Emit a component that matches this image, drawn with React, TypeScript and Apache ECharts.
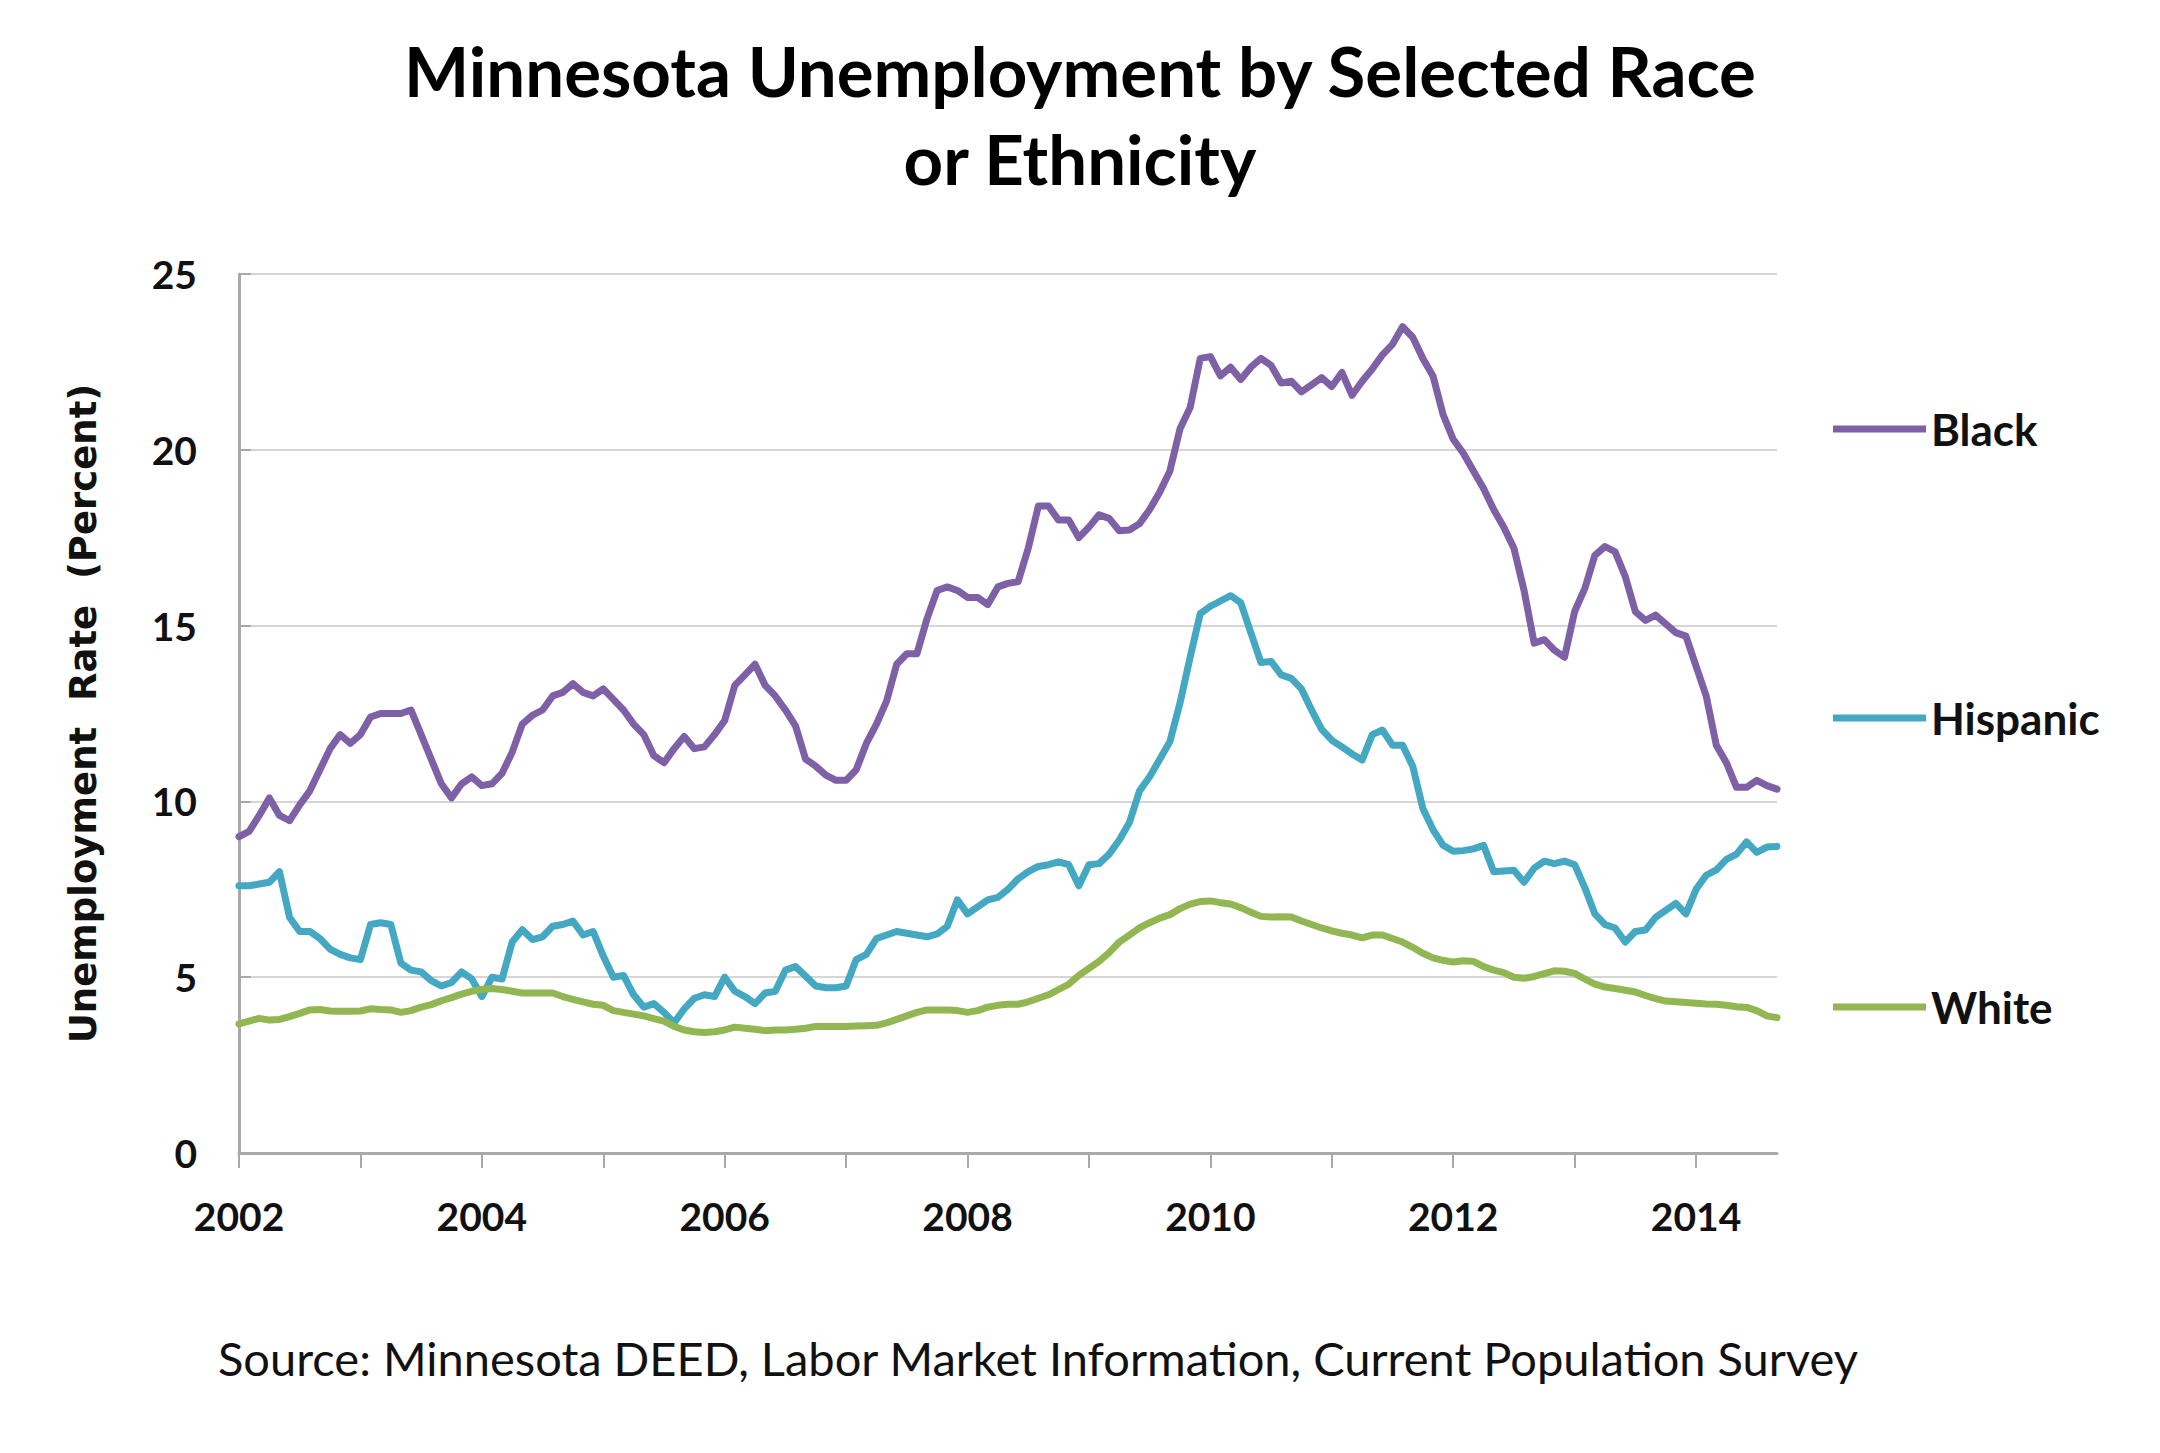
import React, { useEffect, useRef } from "react";
import * as echarts from "echarts";

const START_YEAR = 2002;
const SERIES_NAMES = ["Black", "Hispanic", "White"];
const SERIES_COLORS = ["#7D60A5", "#44A8C3", "#92B752"];
const Y_TICKS = [0, 5, 10, 15, 20, 25];

const BLACK = [
  9.0, 9.15, 9.6, 10.1, 9.6, 9.45, 9.9, 10.3, 10.9, 11.5, 11.9, 11.65,
  11.9, 12.4, 12.5, 12.5, 12.5, 12.6, 11.9, 11.2, 10.5, 10.1, 10.5, 10.7,
  10.45, 10.5, 10.8, 11.4, 12.2, 12.45, 12.6, 13.0, 13.1, 13.35, 13.1, 13.0,
  13.2, 12.9, 12.6, 12.2, 11.9, 11.3, 11.1, 11.5, 11.85, 11.5, 11.55, 11.9,
  12.3, 13.3, 13.6, 13.9, 13.3, 13.0, 12.6, 12.15, 11.2, 11.0, 10.75, 10.6,
  10.6, 10.9, 11.65, 12.2, 12.85, 13.9, 14.2, 14.2, 15.2, 16.0, 16.1, 16.0,
  15.8, 15.8, 15.6, 16.1, 16.2, 16.25, 17.2, 18.4, 18.4, 18.0, 18.0, 17.5,
  17.8, 18.15, 18.05, 17.7, 17.72, 17.9, 18.3, 18.8, 19.4, 20.6, 21.2, 22.6,
  22.65, 22.1, 22.35, 22.0, 22.35, 22.6, 22.4, 21.9, 21.95, 21.65, 21.85, 22.05,
  21.8, 22.2, 21.55, 21.95, 22.3, 22.7, 23.0, 23.5, 23.2, 22.6, 22.1, 21.0,
  20.3, 19.9, 19.4, 18.9, 18.3, 17.8, 17.2, 16.0, 14.5, 14.6, 14.3, 14.1,
  15.4, 16.05, 17.0, 17.25, 17.1, 16.4, 15.4, 15.15, 15.3, 15.05, 14.8, 14.7,
  13.85, 13.0, 11.6, 11.1, 10.4, 10.4, 10.6, 10.45, 10.35,
];

const HISPANIC = [
  7.6, 7.6, 7.65, 7.7, 8.0, 6.7, 6.3, 6.3, 6.1, 5.8, 5.65, 5.55,
  5.5, 6.5, 6.55, 6.5, 5.4, 5.2, 5.15, 4.9, 4.75, 4.85, 5.15, 4.95,
  4.45, 5.0, 4.95, 6.0, 6.35, 6.07, 6.15, 6.45, 6.5, 6.6, 6.2, 6.3,
  5.6, 5.0, 5.05, 4.5, 4.15, 4.25, 4.0, 3.7, 4.1, 4.4, 4.5, 4.45,
  5.0, 4.6, 4.45, 4.25, 4.55, 4.6, 5.2, 5.3, 5.03, 4.75, 4.7, 4.7,
  4.75, 5.5, 5.65, 6.1, 6.2, 6.3, 6.25, 6.2, 6.15, 6.23, 6.45, 7.2,
  6.8, 7.0, 7.2, 7.27, 7.5, 7.8, 8.0, 8.15, 8.2, 8.28, 8.2, 7.6,
  8.2, 8.23, 8.5, 8.9, 9.4, 10.3, 10.7, 11.2, 11.7, 12.8, 14.1, 15.34,
  15.55, 15.7, 15.85, 15.65, 14.8, 13.95, 13.98, 13.6, 13.5, 13.2, 12.6, 12.05,
  11.74, 11.55, 11.35, 11.18, 11.9, 12.03, 11.6, 11.6, 11.0, 9.8, 9.2, 8.75,
  8.58, 8.6, 8.65, 8.75, 8.0, 8.02, 8.04, 7.7, 8.1, 8.3, 8.23, 8.3,
  8.2, 7.55, 6.8, 6.5, 6.4, 6.0, 6.3, 6.34, 6.7, 6.9, 7.1, 6.8,
  7.5, 7.9, 8.05, 8.35, 8.5, 8.85, 8.55, 8.7, 8.72,
];

const WHITE = [
  3.67, 3.75, 3.83, 3.78, 3.8, 3.88, 3.97, 4.07, 4.08, 4.04, 4.03, 4.03,
  4.04, 4.1, 4.08, 4.07, 4.0, 4.05, 4.15, 4.22, 4.33, 4.42, 4.52, 4.6,
  4.65, 4.68, 4.65, 4.6, 4.55, 4.55, 4.55, 4.55, 4.45, 4.37, 4.3, 4.23,
  4.2, 4.05, 4.0, 3.95, 3.9, 3.82, 3.75, 3.6, 3.5, 3.45, 3.43, 3.45,
  3.5, 3.58, 3.55, 3.52, 3.48, 3.5, 3.5, 3.52, 3.55, 3.6, 3.6, 3.6,
  3.6, 3.61, 3.62, 3.63, 3.7, 3.8, 3.9, 4.0, 4.07, 4.07, 4.07, 4.05,
  4.0, 4.05, 4.15, 4.2, 4.23, 4.23, 4.3, 4.4, 4.5, 4.65, 4.8, 5.05,
  5.25, 5.45, 5.7, 6.0, 6.2, 6.4, 6.55, 6.68, 6.78, 6.95, 7.08, 7.15,
  7.17, 7.12, 7.08, 6.98, 6.85, 6.73, 6.71, 6.72, 6.71, 6.6, 6.5, 6.4,
  6.32, 6.25, 6.2, 6.12, 6.2, 6.2, 6.1, 6.0, 5.85, 5.68, 5.55, 5.48,
  5.43, 5.47, 5.45, 5.3, 5.2, 5.13, 5.0, 4.97, 5.02, 5.1, 5.18, 5.17,
  5.11, 4.95, 4.8, 4.72, 4.68, 4.63, 4.58, 4.48, 4.39, 4.32, 4.3, 4.28,
  4.26, 4.24, 4.23, 4.2, 4.16, 4.14, 4.05, 3.9, 3.85,
];

const TITLE_LINES = ["Minnesota Unemployment by Selected Race", "or Ethnicity"];
const Y_AXIS_NAME = "Unemployment  Rate  (Percent)";
const SOURCE_TEXT =
  "Source: Minnesota DEED, Labor Market Information, Current Population Survey";

const MONTHS: string[] = [];
for (let i = 0; i < BLACK.length; i++) {
  const y = START_YEAR + Math.floor(i / 12);
  const m = (i % 12) + 1;
  MONTHS.push(`${y}-${m < 10 ? "0" + m : m}`);
}

const CAL = "Lato, 'Noto Sans', sans-serif";
const VERD = "'DejaVu Sans', Verdana, sans-serif";

export default function App() {
  const ref = useRef<HTMLDivElement>(null);

  useEffect(() => {
    document.body.style.margin = "0";
    if (!ref.current) return;
    const chart = echarts.init(ref.current, undefined, { renderer: "svg" });
    const seriesData = [BLACK, HISPANIC, WHITE];

    chart.setOption({
      animation: false,
      backgroundColor: "#ffffff",
      grid: { left: 239, right: 383, top: 274, bottom: 300, containLabel: false },
      legend: {
        orient: "vertical",
        left: 1828,
        top: 399,
        itemWidth: 93,
        itemHeight: 7,
        itemGap: 239,
        icon: "rect",
        data: SERIES_NAMES,
        textStyle: {
          fontFamily: CAL,
          fontWeight: "bold",
          fontSize: 44,
          lineHeight: 50,
          color: "#111111",
          padding: [0, 0, 0, 0],
        },
      },
      xAxis: {
        type: "category",
        data: MONTHS,
        boundaryGap: false,
        axisLine: { show: true, lineStyle: { color: "#A9A9A9", width: 3 } },
        axisTick: {
          show: true,
          interval: (index: number) => index % 12 === 0,
          length: 15,
          lineStyle: { color: "#A9A9A9", width: 2 },
        },
        axisLabel: {
          interval: (index: number) => index % 24 === 0,
          formatter: (v: string) => v.slice(0, 4),
          margin: 43,
          fontFamily: CAL,
          fontWeight: "bold",
          fontSize: 39,
          color: "#111111",
        },
        splitLine: { show: false },
      },
      yAxis: {
        type: "value",
        min: Y_TICKS[0],
        max: Y_TICKS[Y_TICKS.length - 1],
        interval: Y_TICKS[1] - Y_TICKS[0],
        name: Y_AXIS_NAME,
        nameLocation: "middle",
        nameRotate: 90,
        nameGap: 137,
        nameTextStyle: {
          fontFamily: VERD,
          fontWeight: "bold",
          fontSize: 37,
          color: "#111111",
        },
        axisLine: { show: true, lineStyle: { color: "#A9A9A9", width: 3 } },
        axisTick: { show: true, inside: true, length: 12, lineStyle: { color: "#A9A9A9", width: 2 } },
        axisLabel: {
          margin: 42,
          fontFamily: CAL,
          fontWeight: "bold",
          fontSize: 39,
          color: "#111111",
        },
        splitLine: { show: true, lineStyle: { color: "#D6D6D6", width: 2 } },
      },
      series: SERIES_NAMES.map((name, i) => ({
        name,
        type: "line",
        data: seriesData[i],
        showSymbol: false,
        symbol: "none",
        smooth: false,
        color: SERIES_COLORS[i],
        lineStyle: { color: SERIES_COLORS[i], width: 7, cap: "round", join: "round" },
        emphasis: { disabled: true },
      })),
      graphic: [
        {
          type: "text",
          x: 1080,
          y: 70,
          style: {
            text: TITLE_LINES[0],
            fontFamily: CAL,
            fontWeight: "bold",
            fontSize: 69,
            fill: "#000000",
            align: "center",
            verticalAlign: "middle",
          },
        },
        {
          type: "text",
          x: 1080,
          y: 158,
          style: {
            text: TITLE_LINES[1],
            fontFamily: CAL,
            fontWeight: "bold",
            fontSize: 69,
            fill: "#000000",
            align: "center",
            verticalAlign: "middle",
          },
        },
        {
          type: "text",
          x: 218,
          y: 1358,
          style: {
            text: SOURCE_TEXT,
            fontFamily: CAL,
            fontSize: 47,
            fill: "#111111",
            verticalAlign: "middle",
            align: "left",
          },
        },
      ],
    });

    return () => chart.dispose();
  }, []);

  return <div ref={ref} style={{ width: 2160, height: 1453 }} />;
}
